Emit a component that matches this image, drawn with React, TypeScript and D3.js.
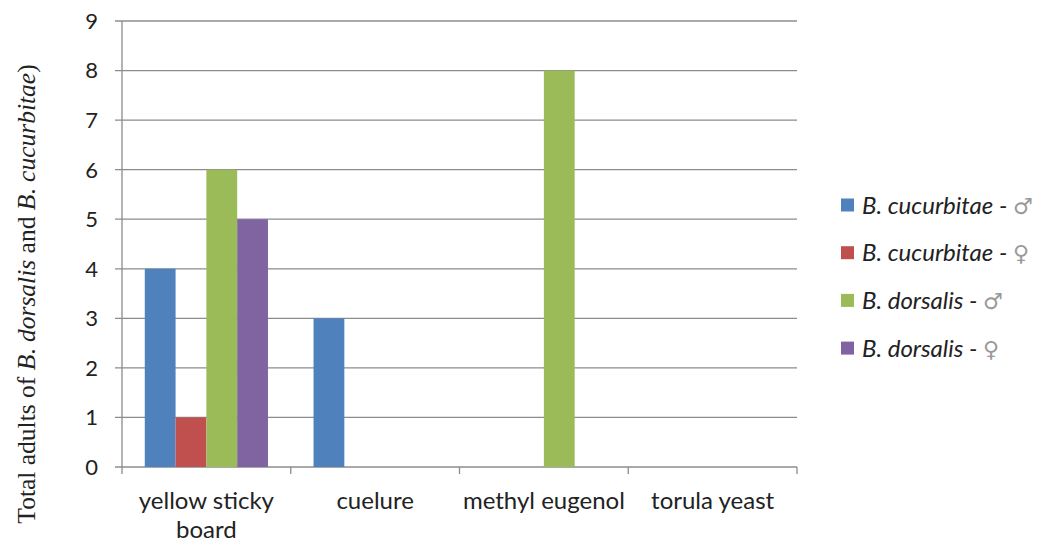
import React from "react";
import * as d3 from "d3";

const categories = ["yellow sticky board", "cuelure", "methyl eugenol", "torula yeast"];
const categoryLines = [["yellow sticky", "board"], ["cuelure"], ["methyl eugenol"], ["torula yeast"]];
const seriesNames = ["B. cucurbitae", "B. cucurbitae", "B. dorsalis", "B. dorsalis"];
const seriesSymbols = ["\u2642", "\u2640", "\u2642", "\u2640"];
const seriesColors = ["#4F81BD", "#C0504D", "#9BBB59", "#8064A2"];
const cucurbitaeMale = [4, 3, 0, 0];
const cucurbitaeFemale = [1, 0, 0, 0];
const dorsalisMale = [6, 0, 8, 0];
const dorsalisFemale = [5, 0, 0, 0];
const yTicks = [0, 1, 2, 3, 4, 5, 6, 7, 8, 9];

const series = [cucurbitaeMale, cucurbitaeFemale, dorsalisMale, dorsalisFemale];

export default function App() {
  const W = 1045, H = 544;
  const left = 122, right = 797, top = 21, bottom = 467;
  const x = d3.scaleBand<string>().domain(categories).range([left, right]).paddingInner(0.27).paddingOuter(0.135);
  const outer = d3.scaleBand<string>().domain(categories).range([left, right]);
  const inner = d3.scaleBand<number>().domain(series.map((_, i) => i)).range([0, x.bandwidth()]);
  const y = d3.scaleLinear().domain([0, 9]).range([bottom, top]);
  const gridColor = "#8c8c8c";
  const labelFont = "Lato, 'Open Sans', sans-serif";
  const serifFont = "'Liberation Serif'";
  const serifStyle = { fontFamily: serifFont };
  const serifItalic = { fontFamily: serifFont, fontStyle: "italic" as const };

  return (
    <svg width={W} height={H} style={{ position: "absolute", left: 0, top: 0, background: "#fff" }}>
      {yTicks.map((t) => (
        <g key={t}>
          <line x1={left - 7} x2={right} y1={y(t)} y2={y(t)} stroke={gridColor} strokeWidth={1.3} />
          <text x={98} y={y(t)} dy="0.36em" textAnchor="end" style={{ fontFamily: labelFont }} fontSize={22} fill="#222">
            {t}
          </text>
        </g>
      ))}
      <line x1={left} x2={left} y1={top} y2={bottom} stroke={gridColor} strokeWidth={1.3} />
      {categories.map((c, i) => (
        <line key={"tk" + i} x1={outer(c)!} x2={outer(c)!} y1={bottom} y2={bottom + 7} stroke={gridColor} strokeWidth={1.3} />
      ))}
      <line x1={right} x2={right} y1={bottom} y2={bottom + 7} stroke={gridColor} strokeWidth={1.3} />
      {series.map((vals, si) =>
        vals.map((v, ci) =>
          v > 0 ? (
            <rect
              key={si + "-" + ci}
              x={x(categories[ci])! + inner(si)!}
              width={inner.bandwidth()}
              y={y(v)}
              height={y(0) - y(v)}
              fill={seriesColors[si]}
            />
          ) : null
        )
      )}
      {categories.map((c, i) => (
        <text key={"cl" + i} textAnchor="middle" style={{ fontFamily: labelFont }} fontSize={24} fill="#222">
          {categoryLines[i].map((ln, li) => (
            <tspan key={li} x={outer(c)! + outer.bandwidth() / 2} y={509 + li * 29}>
              {ln}
            </tspan>
          ))}
        </text>
      ))}
      <text transform={`translate(35, 294) rotate(-90)`} textAnchor="middle" style={serifStyle} fontSize={25.5} fill="#222">
        <tspan style={serifStyle}>Total adults of </tspan>
        <tspan style={serifItalic}>B</tspan>
        <tspan style={serifStyle}>. </tspan>
        <tspan style={serifItalic}>dorsalis</tspan>
        <tspan style={serifStyle}> and </tspan>
        <tspan style={serifItalic}>B</tspan>
        <tspan style={serifStyle}>. </tspan>
        <tspan style={serifItalic}>cucurbitae</tspan>
        <tspan style={serifStyle}>)</tspan>
      </text>
      {seriesNames.map((n, i) => {
        const cy = 205 + i * 47.7;
        return (
          <g key={"lg" + i}>
            <rect x={841} y={cy - 6.5} width={13} height={13} fill={seriesColors[i]} />
            <text x={862} y={cy} dy="0.36em" style={{ fontFamily: labelFont }} fontSize={24} fontStyle="italic" fill="#222">
              {n}
              <tspan> - </tspan>
              <tspan fontStyle="normal" fill="#999" style={{ fontFamily: "'DejaVu Sans', sans-serif" }} fontSize={22}>
                {seriesSymbols[i]}
              </tspan>
            </text>
          </g>
        );
      })}
    </svg>
  );
}
